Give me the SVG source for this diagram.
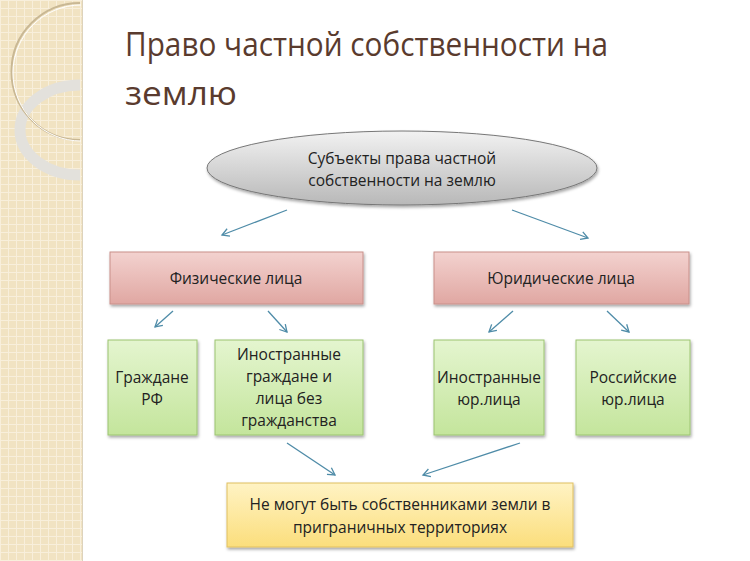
<svg xmlns="http://www.w3.org/2000/svg" width="750" height="561" viewBox="0 0 750 561">
<defs>
<pattern id="grid" width="8" height="8" patternUnits="userSpaceOnUse"><rect width="8" height="8" fill="#f1e3c2"/><path d="M0 0.5H8M0.5 0V8" stroke="#f8efdb" stroke-width="1"/></pattern>
<linearGradient id="ell" x1="0" y1="0" x2="0" y2="1"><stop offset="0" stop-color="#f2f2f2"/><stop offset="1" stop-color="#b8b8b8"/></linearGradient>
<linearGradient id="pink" x1="0" y1="0" x2="0" y2="1"><stop offset="0" stop-color="#f3d2cf"/><stop offset="1" stop-color="#e0a7a2"/></linearGradient>
<linearGradient id="green" x1="0" y1="0" x2="0" y2="1"><stop offset="0" stop-color="#e4f5cf"/><stop offset="1" stop-color="#c4e59c"/></linearGradient>
<linearGradient id="yel" x1="0" y1="0" x2="0" y2="1"><stop offset="0" stop-color="#fff3c4"/><stop offset="1" stop-color="#fbde7c"/></linearGradient>
<marker id="ah" markerWidth="10" markerHeight="10" refX="8" refY="5" orient="auto" markerUnits="userSpaceOnUse"><path d="M1 1L8 5L1 9" fill="none" stroke="#4f8ca8" stroke-width="1.3"/></marker>
<filter id="sh" x="-10%" y="-10%" width="120%" height="130%"><feDropShadow dx="1" dy="2" stdDeviation="1.5" flood-color="#000" flood-opacity="0.35"/></filter>
</defs>
<style>
text{font-family:"Open Sans","Liberation Sans",sans-serif;fill:#222;text-anchor:middle;font-size:15.5px}
.t{font-size:32px;fill:#5a3b2e;text-anchor:start}
.c line{stroke:#4f8ca8;stroke-width:1.3;marker-end:url(#ah)}
.b{stroke-width:1;filter:url(#sh)}
</style>
<rect width="750" height="561" fill="#fff"/>
<rect width="82" height="561" fill="url(#grid)"/>
<line x1="82.5" y1="0" x2="82.5" y2="561" stroke="#ddd3bd"/>
<path d="M80 85A60 45 0 0 0 80 175" fill="none" stroke="#e3e1dc" stroke-width="11"/>
<path d="M80 3A68 68 0 0 0 80 140" fill="none" stroke="#c9b894" stroke-width="2"/>
<path d="M81 5A67 67 0 0 0 81 141" fill="none" stroke="#fff" stroke-width="1"/>
<text class="t" x="125" y="56" textLength="483" lengthAdjust="spacingAndGlyphs">Право частной собственности на</text>
<text class="t" x="125" y="105" textLength="112" lengthAdjust="spacingAndGlyphs">землю</text>
<g class="c">
<line x1="287" y1="210" x2="222" y2="235"/>
<line x1="512" y1="210" x2="588" y2="238"/>
<line x1="173" y1="311" x2="155" y2="327"/>
<line x1="268" y1="311" x2="287" y2="332"/>
<line x1="513" y1="311" x2="489" y2="332"/>
<line x1="607" y1="311" x2="629" y2="332"/>
<line x1="287" y1="443" x2="335" y2="475"/>
<line x1="520" y1="443" x2="423" y2="475"/>
</g>
<g id="subj"><ellipse class="b" cx="402" cy="168" rx="195" ry="37" fill="url(#ell)" stroke="#777"/><text x="402" y="164">Субъекты права частной</text><text x="402" y="186">собственности на землю</text></g>
<g id="fiz"><rect class="b" x="110" y="252" width="253" height="52" fill="url(#pink)" stroke="#c9908a"/><text x="236" y="284">Физические лица</text></g>
<g id="yur"><rect class="b" x="434" y="252" width="255" height="52" fill="url(#pink)" stroke="#c9908a"/><text x="561" y="284">Юридические лица</text></g>
<g id="grazh"><rect class="b" x="108" y="340" width="89" height="95" fill="url(#green)" stroke="#9cc471"/><text x="152" y="383">Граждане</text><text x="152" y="405">РФ</text></g>
<g id="inostr"><rect class="b" x="215" y="340" width="148" height="95" fill="url(#green)" stroke="#9cc471"/><text x="289" y="360">Иностранные</text><text x="289" y="382">граждане и</text><text x="289" y="404">лица без</text><text x="289" y="426">гражданства</text></g>
<g id="inyur"><rect class="b" x="434" y="340" width="110" height="95" fill="url(#green)" stroke="#9cc471"/><text x="489" y="383">Иностранные</text><text x="489" y="405">юр.лица</text></g>
<g id="rusyur"><rect class="b" x="576" y="340" width="114" height="95" fill="url(#green)" stroke="#9cc471"/><text x="633" y="383">Российские</text><text x="633" y="405">юр.лица</text></g>
<g id="ne"><rect class="b" x="227" y="483" width="346" height="64" fill="url(#yel)" stroke="#e0c060"/><text x="400" y="510">Не могут быть собственниками земли в</text><text x="400" y="533">приграничных территориях</text></g>
</svg>
